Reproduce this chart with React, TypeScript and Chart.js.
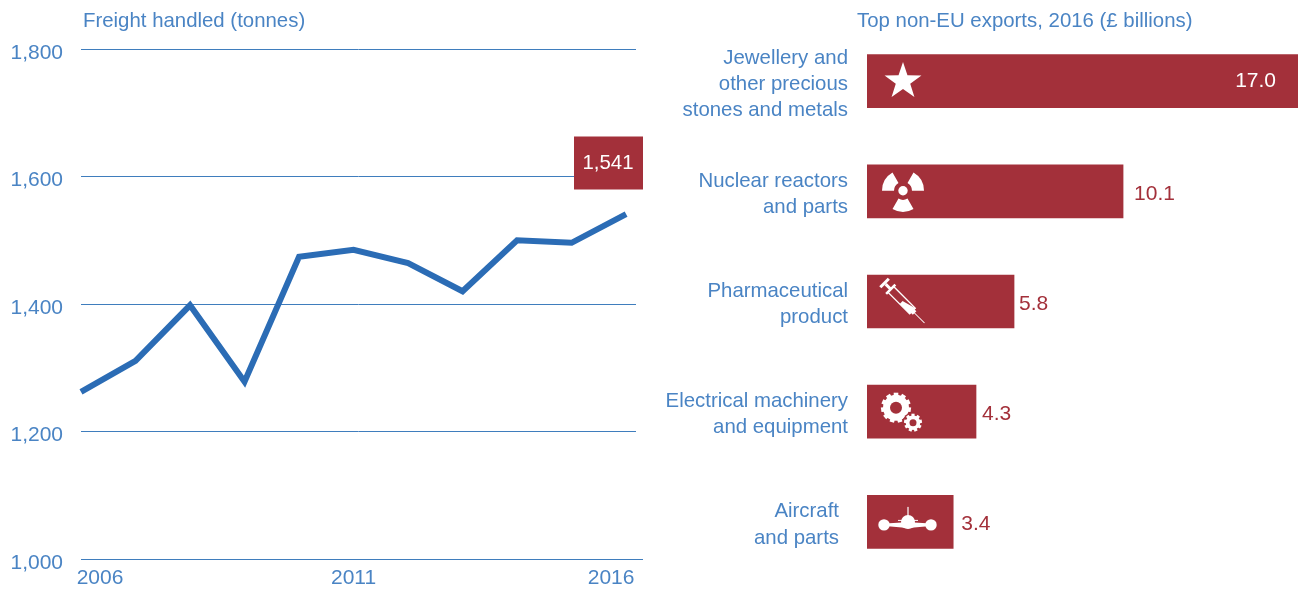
import React, { useEffect, useRef } from "react";
import { Chart, registerables } from "chart.js";

Chart.register(...registerables);

const years = [2006, 2007, 2008, 2009, 2010, 2011, 2012, 2013, 2014, 2015, 2016];
const freight = [1262, 1311, 1398, 1278, 1474, 1485, 1464, 1420, 1500, 1496, 1541];
const yearTicks = [2006, 2011, 2016];
const yearTickNudge = [19, 0, -15];
const freightTitle = "Freight handled (tonnes)";
const freightCallout = "1,541";

const exportLabels = [
  ["Jewellery and", "other precious", "stones and metals"],
  ["Nuclear reactors", "and parts"],
  ["Pharmaceutical", "product"],
  ["Electrical machinery", "and equipment"],
  ["Aircraft", "and parts"],
];
const exportValues = [17.0, 10.1, 5.8, 4.3, 3.4];
const exportLabelNudge = [0, 0, 0, 0, -9];
const valueLabelGap = [-22, 11, 5, 6, 8];
const exportTitle = "Top non-EU exports, 2016 (£ billions)";

const BLUE_TEXT = "#4a84c4";
const BLUE_GRID = "#3f7dbd";
const BLUE_LINE = "#2b6cb5";
const RED = "#a3303a";
const FONT_FAMILY = "'Liberation Sans', sans-serif";
const FONT = { family: FONT_FAMILY, size: 20.4, weight: "400" as const };
const TICK_FONT = { family: FONT_FAMILY, size: 21, weight: "400" as const };
const fontCss = `400 20.4px ${FONT_FAMILY}`;
const valueFontCss = `400 21px ${FONT_FAMILY}`;

const noAutoPadding = (s: any) => {
  s.paddingLeft = 0;
  s.paddingRight = 0;
  s.paddingTop = 0;
  s.paddingBottom = 0;
};

const nudgeLabels = (axis: string, nudges: number[]) => ({
  id: "nudgeLabels",
  afterUpdate(chart: any) {
    const s = chart.scales[axis];
    s.getLabelItems(chart.chartArea).forEach((it: any, i: number) => {
      it.options.translation[0] += nudges[i] ?? 0;
    });
  },
});

const heading = (text: string, x: number, y: number) => ({
  id: "heading",
  afterDraw(chart: any) {
    const c = chart.ctx;
    c.save();
    c.font = fontCss;
    c.fillStyle = BLUE_TEXT;
    c.textAlign = "left";
    c.textBaseline = "middle";
    c.fillText(text, x, y);
    c.restore();
  },
});

const gridPlugin = {
  id: "shortGrid",
  beforeDatasetsDraw(chart: any) {
    const c = chart.ctx;
    const s = chart.scales.y;
    c.save();
    c.strokeStyle = BLUE_GRID;
    c.lineWidth = 1;
    s.ticks.forEach((t: any) => {
      const y = Math.floor(s.getPixelForValue(t.value)) + 0.5;
      const right = t.value === s.min ? chart.chartArea.right : chart.chartArea.right - 7;
      c.beginPath();
      c.moveTo(chart.chartArea.left, y);
      c.lineTo(right, y);
      c.stroke();
    });
    c.restore();
  },
};

const calloutPlugin = {
  id: "callout",
  afterDatasetsDraw(chart: any) {
    const c = chart.ctx;
    const s = chart.scales.y;
    const right = chart.chartArea.right;
    const cy = s.getPixelForValue(1600) - 13.5;
    c.save();
    c.fillStyle = RED;
    c.fillRect(right - 69, cy - 26.5, 69, 53);
    c.fillStyle = "#ffffff";
    c.font = fontCss;
    c.textAlign = "center";
    c.textBaseline = "middle";
    c.fillText(freightCallout, right - 35, cy + 0.5);
    c.restore();
  },
};

function star(c: CanvasRenderingContext2D) {
  c.beginPath();
  for (let i = 0; i < 10; i++) {
    const r = i % 2 ? 7.6 : 19.4;
    const a = -Math.PI / 2 + (i * Math.PI) / 5;
    c.lineTo(r * Math.cos(a), r * Math.sin(a));
  }
  c.closePath();
  c.fill();
}

function radiation(c: CanvasRenderingContext2D) {
  c.beginPath();
  c.arc(0, 0, 4.7, 0, Math.PI * 2);
  c.fill();
  [Math.PI / 2, Math.PI + Math.PI / 6, -Math.PI / 6].forEach((mid) => {
    const h = Math.PI / 6;
    c.beginPath();
    c.arc(0, 0, 21, mid - h, mid + h);
    c.arc(0, 0, 9, mid + h, mid - h, true);
    c.closePath();
    c.fill();
  });
}

function syringe(c: CanvasRenderingContext2D) {
  c.save();
  c.rotate(Math.PI / 4);
  c.strokeStyle = "#fff";
  c.lineCap = "butt";
  c.lineWidth = 1;
  c.beginPath();
  c.moveTo(12, 0);
  c.lineTo(29, 0);
  c.stroke();
  c.lineWidth = 1.3;
  c.strokeRect(-19, -4, 31, 8);
  c.fillStyle = "#fff";
  c.beginPath();
  c.moveTo(-2, 4);
  c.lineTo(-2, 0);
  c.lineTo(12, -4);
  c.lineTo(12, 4);
  c.closePath();
  c.fill();
  c.fillRect(-26, -1.5, 8, 3);
  c.fillRect(-29, -6, 3, 12);
  c.fillRect(-20, -6.5, 2.5, 13);
  c.fillRect(12, -2.5, 3, 5);
  c.restore();
}

function gear(c: CanvasRenderingContext2D, x: number, y: number, rOuter: number, rMid: number, rHole: number, teeth: number) {
  c.save();
  c.translate(x, y);
  c.beginPath();
  c.arc(0, 0, rMid, 0, Math.PI * 2);
  c.fill();
  const w = ((Math.PI * 2 * rMid) / teeth) * 0.62;
  for (let i = 0; i < teeth; i++) {
    c.save();
    c.rotate((i * Math.PI * 2) / teeth);
    c.fillRect(-w / 2, -rOuter, w, rOuter - rMid + 1);
    c.restore();
  }
  c.fillStyle = RED;
  c.beginPath();
  c.arc(0, 0, rHole, 0, Math.PI * 2);
  c.fill();
  c.restore();
}

function gears(c: CanvasRenderingContext2D) {
  gear(c, -4, -3, 15, 13, 6, 11);
  c.fillStyle = RED;
  c.beginPath();
  c.arc(13, 12, 10.5, 0, Math.PI * 2);
  c.fill();
  c.fillStyle = "#fff";
  gear(c, 13, 12, 9, 7.3, 3.5, 9);
}

function plane(c: CanvasRenderingContext2D) {
  c.beginPath();
  c.arc(-24, 0, 5.7, 0, Math.PI * 2);
  c.fill();
  c.beginPath();
  c.arc(23, 0, 5.7, 0, Math.PI * 2);
  c.fill();
  c.beginPath();
  c.arc(0, -3, 7, 0, Math.PI * 2);
  c.fill();
  c.beginPath();
  c.moveTo(-23, -1.5);
  c.lineTo(-6, -2.5);
  c.lineTo(6, -2.5);
  c.lineTo(23, -1.5);
  c.lineTo(23, 1);
  c.lineTo(6, 2.5);
  c.quadraticCurveTo(0, 4.5, -6, 2.5);
  c.lineTo(-23, 1);
  c.closePath();
  c.fill();
  c.fillRect(-0.6, -18, 1.2, 12);
  c.fillRect(-10, -5, 20, 1);
}

const icons: [(c: CanvasRenderingContext2D) => void, number, number][] = [
  [star, 36, 0.3],
  [radiation, 36, -0.5],
  [syringe, 37, 1],
  [gears, 33, -1],
  [plane, 41, 3],
];

const barLabelPlugin = {
  id: "barLabels",
  afterDatasetsDraw(chart: any) {
    const c = chart.ctx;
    const meta = chart.getDatasetMeta(0);
    const left = chart.chartArea.left;
    meta.data.forEach((bar: any, i: number) => {
      c.save();
      c.fillStyle = "#fff";
      c.translate(left + icons[i][1], bar.y + icons[i][2]);
      icons[i][0](c);
      c.restore();

      c.save();
      c.font = valueFontCss;
      c.textBaseline = "middle";
      const text = exportValues[i].toFixed(1);
      if (i === 0) {
        c.fillStyle = "#fff";
        c.textAlign = "right";
        c.fillText(text, bar.x + valueLabelGap[i], bar.y);
      } else {
        c.fillStyle = RED;
        c.textAlign = "left";
        c.fillText(text, bar.x + valueLabelGap[i], bar.y + 2.5);
      }
      c.restore();
    });
  },
};

export default function App() {
  const leftRef = useRef<HTMLCanvasElement>(null);
  const rightRef = useRef<HTMLCanvasElement>(null);

  useEffect(() => {
    document.body.style.margin = "0";
    document.body.style.background = "#fff";

    const left = new Chart(leftRef.current!, {
      type: "line",
      data: {
        datasets: [
          {
            data: years.map((x, i) => ({ x, y: freight[i] })),
            borderColor: BLUE_LINE,
            borderWidth: 6,
            pointRadius: 0,
            tension: 0,
            borderJoinStyle: "miter",
            borderCapStyle: "butt",
            clip: false as any,
          },
        ],
      },
      options: {
        animation: false,
        responsive: false,
        layout: { padding: { top: 49, right: 7, left: 0, bottom: 0 } },
        plugins: { legend: { display: false }, tooltip: { enabled: false } },
        scales: {
          x: {
            type: "linear",
            min: 2006,
            max: 2016.31,
            grid: { display: false, drawTicks: false },
            border: { display: false },
            afterBuildTicks: (s: any) => {
              s.ticks = yearTicks.map((value) => ({ value }));
            },
            afterFit: (s: any) => {
              s.height = 30;
              noAutoPadding(s);
            },
            ticks: {
              color: BLUE_TEXT,
              font: TICK_FONT,
              padding: 7,
              maxRotation: 0,
              autoSkip: false,
              callback: (v: any) => String(v),
            },
          },
          y: {
            min: 1000,
            max: 1800,
            grid: { display: false, drawTicks: false },
            border: { display: false },
            afterFit: (s: any) => {
              s.width = 81;
              noAutoPadding(s);
            },
            ticks: {
              stepSize: 200,
              color: BLUE_TEXT,
              font: TICK_FONT,
              padding: 18,
              labelOffset: 4,
              callback: (v: any) => Number(v).toLocaleString("en-US"),
            },
          },
        },
      },
      plugins: [gridPlugin, calloutPlugin, heading(freightTitle, 83, 21), nudgeLabels("x", yearTickNudge)],
    });

    const right = new Chart(rightRef.current!, {
      type: "bar",
      data: {
        labels: exportLabels as any,
        datasets: [
          {
            data: exportValues,
            backgroundColor: RED,
            barThickness: 53,
          },
        ],
      },
      options: {
        indexAxis: "y",
        animation: false,
        responsive: false,
        layout: { padding: { top: 26, right: 5, left: 0, bottom: 12 } },
        plugins: { legend: { display: false }, tooltip: { enabled: false } },
        scales: {
          x: { display: false, min: 0, max: 17 },
          y: {
            grid: { display: false, drawTicks: false },
            border: { display: false },
            afterFit: (s: any) => {
              s.width = 217;
              noAutoPadding(s);
            },
            ticks: {
              color: BLUE_TEXT,
              font: { ...FONT, lineHeight: 1.28 },
              padding: 19,
              labelOffset: 3,
              autoSkip: false,
            },
          },
        },
      },
      plugins: [barLabelPlugin, heading(exportTitle, 207, 21), nudgeLabels("y", exportLabelNudge)],
    });

    return () => {
      left.destroy();
      right.destroy();
    };
  }, []);

  return (
    <div style={{ position: "relative", width: 1303, height: 589, overflow: "hidden" }}>
      <canvas ref={leftRef} width={650} height={589} style={{ position: "absolute", left: 0, top: 0 }} />
      <canvas ref={rightRef} width={653} height={589} style={{ position: "absolute", left: 650, top: 0 }} />
    </div>
  );
}
